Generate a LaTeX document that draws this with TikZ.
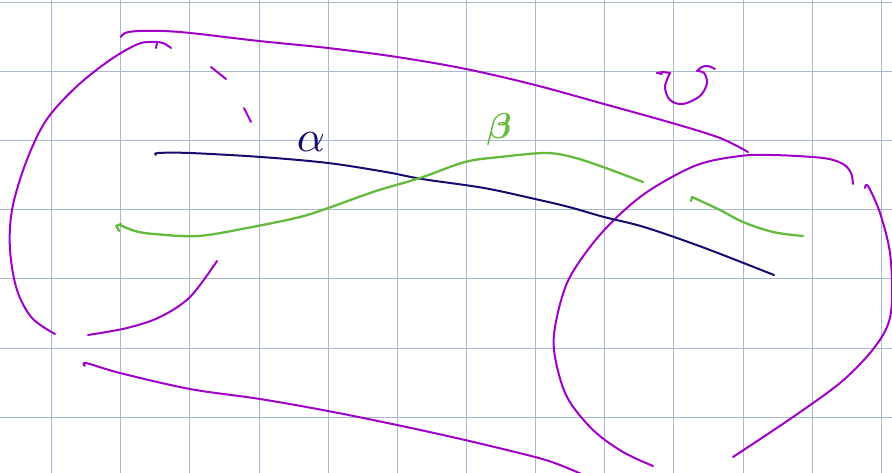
\documentclass[tikz,border=0pt]{standalone}
\usepackage{amsmath}
\usetikzlibrary{calc}
\definecolor{gridc}{RGB}{168,184,212}
\definecolor{pur}{RGB}{160,0,200}
\definecolor{nav}{RGB}{20,12,110}
\definecolor{grn}{RGB}{100,186,60}
\tikzset{
  gridline/.style={draw=gridc, line width=0.9pt},
  pstroke/.style={draw=pur, line width=2pt, line cap=round, line join=round},
  nstroke/.style={draw=nav, line width=2pt, line cap=round, line join=round},
  gstroke/.style={draw=grn, line width=2.3pt, line cap=round, line join=round},
  hand/.style={smooth, tension=0.55}
}
\begin{document}
\begin{tikzpicture}[x=1pt,y=-1pt]
\useasboundingbox (0,0) rectangle (892,473);
\fill[white] (0,0) rectangle (892,473);
% grid
\foreach \k in {0,...,12} {
  \draw[gridline] ({51.5+69.15*\k},0) -- ({51.5+69.15*\k},473);
}
\foreach \k in {0,...,6} {
  \draw[gridline] (0,{2.7+69.05*\k}) -- (892,{2.7+69.05*\k});
}
% purple: left bracket (upper part)
\draw[pstroke] plot[hand] coordinates {(171,48) (163,43) (153,42) (138,44) (110,60) (75,88) (45,122) (25,165) (12,210) (10,250) (17,290) (32,318) (55,334)};
\draw[pstroke] (157,43) -- (156,48);
% purple: left bracket (lower part)
\draw[pstroke] plot[hand] coordinates {(217,261) (190,297) (160,317) (127,328) (88,335)};
% purple: top line
\draw[pstroke] plot[hand] coordinates {(121,37) (125,33) (140,31) (180,32) (259,41) (328,48) (397,57) (466,69) (535,85) (604,104) (672,123) (720,138) (748,152)};
% purple: dashes
\draw[pstroke] (211,67) -- (226,79);
\draw[pstroke] (244,108) -- (251,122);
% purple: bottom line
\draw[pstroke] plot[hand] coordinates {(85,366) (86,363) (120,373) (190,389) (260,399) (328,411) (397,425) (465,440) (535,457) (560,465) (586,476)};
% purple: big right loop
\draw[pstroke] plot[hand] coordinates {(853,184) (851,173) (843,164) (823,158) (773,155) (740,156) (697,165) (650,190) (617,217) (590,247) (567,283) (555,327) (555,357) (567,397) (593,430) (623,452) (653,466)};
% purple: right arc
\draw[pstroke] plot[hand] coordinates {(865,188) (868,186) (880,213) (890,253) (892,300) (887,327) (870,353) (840,383) (793,417) (733,457)};
% purple: U turn with arrows
\draw[pstroke] plot[hand] coordinates {(670,73) (665,87) (670,100) (683,104) (700,96) (707,83) (704,73) (697,71)};
\draw[pstroke] (657,73) -- (663,72) -- (670,73);
\draw[pstroke] (657,73) -- (662,74);
\draw[pstroke] plot[hand] coordinates {(697,71) (702,67) (708,66) (715,69)};
% navy line
\draw[nstroke] plot[hand] coordinates {(156,155) (158,153) (190,153) (261,157) (328,163) (386,172) (422,179) (484,188) (535,199) (569,207) (604,217) (644,227) (702,247) (774,275)};
% green long line
\draw[gstroke] plot[hand] coordinates {(120,225) (135,231) (154,234) (198,236) (247,228) (300,217) (331,207) (376,191) (420,178) (465,162) (500,157) (545,153) (572,157) (603,167) (643,182)};
\draw[gstroke] (116,226) -- (121,224);
\draw[gstroke] (117,227) -- (119,231);
% green short line
\draw[gstroke] plot[hand] coordinates {(692,197) (720,210) (743,222) (773,232) (803,236)};
\draw[gstroke] (692,197) -- (691,201);
% labels
\node[nav, inner sep=0pt, scale=4.4] (alpha) at (311,142) {$\alpha$};
\node[grn, inner sep=0pt, scale=3.6] (beta) at (499,130) {$\boldsymbol{\beta}$};
\end{tikzpicture}
\end{document}
